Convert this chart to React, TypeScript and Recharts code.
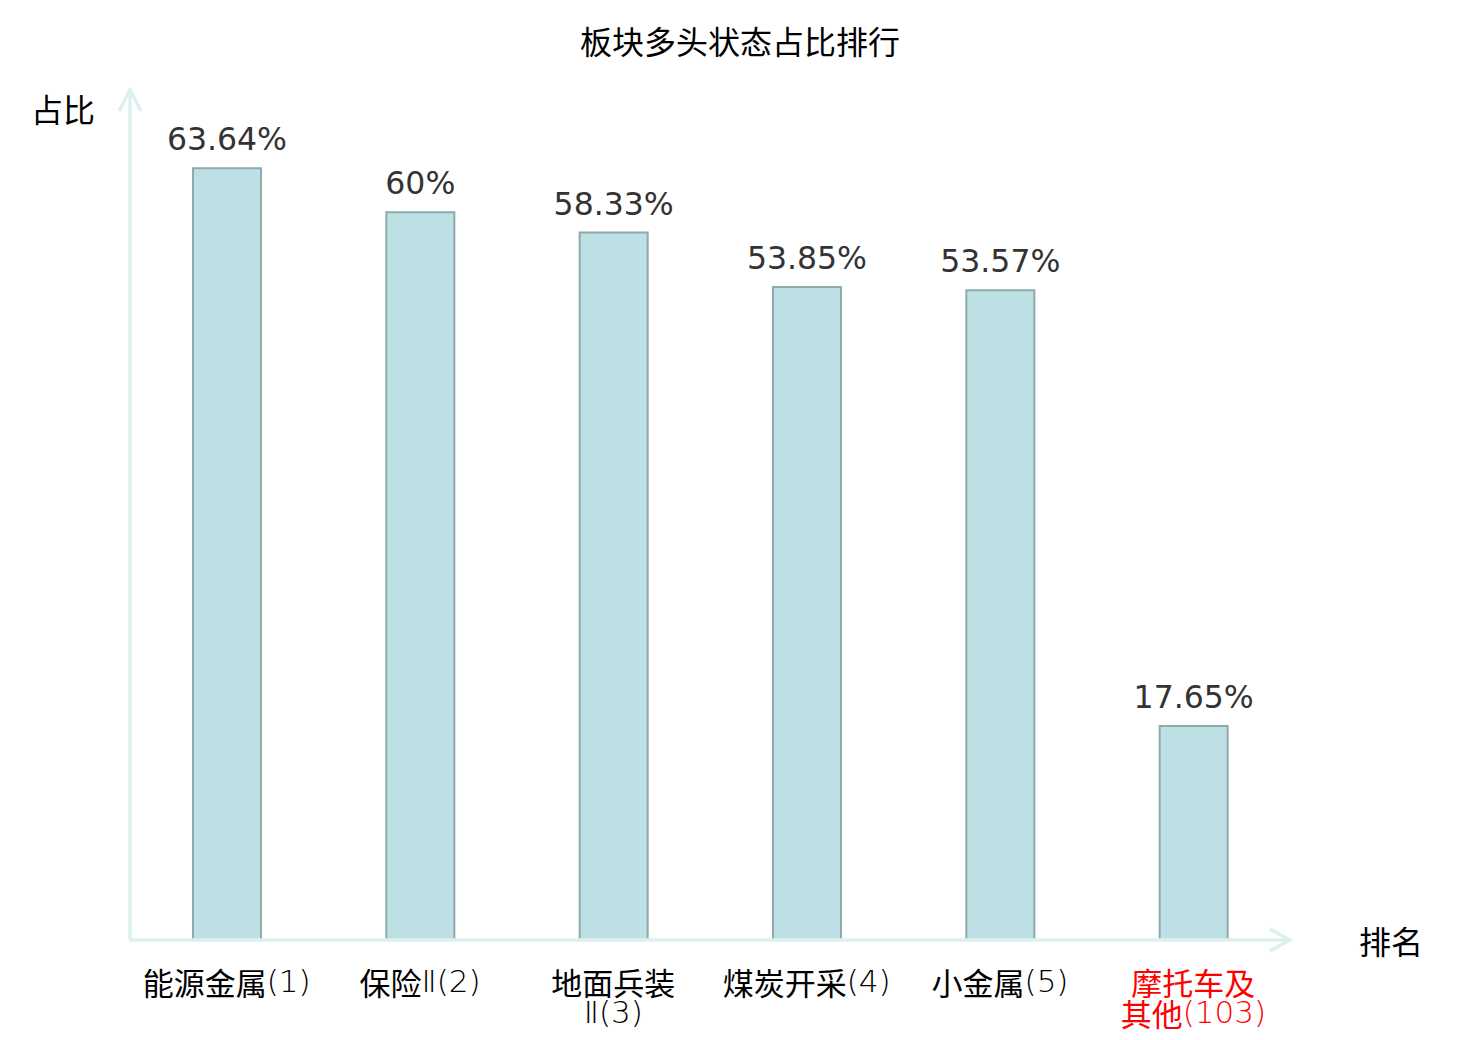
import React from "react";
import { Bar, BarChart, LabelList, XAxis, YAxis } from "recharts";

const categories = [
  "能源金属(1)",
  "保险Ⅱ(2)",
  "地面兵装\nⅡ(3)",
  "煤炭开采(4)",
  "小金属(5)",
  "摩托车及\n其他(103)",
];
const ratios = [63.64, 60, 58.33, 53.85, 53.57, 17.65];
const highlighted = ["摩托车及\n其他(103)"];

const data = categories.map((name, i) => ({ name, ratio: ratios[i] }));

const AXIS_COLOR = "#dcf1ef";
const CJK = "'Noto Sans CJK SC', 'DejaVu Sans', sans-serif";
const THIN = "'DejaVu Sans', sans-serif";

// split a line into CJK runs and latin runs (latin drawn thinner, as in the source)
function splitRuns(line: string) {
  return line.match(/[\u4e00-\u9fff]+|[^\u4e00-\u9fff]+/g) || [];
}

function CategoryTick({ x, y, payload }: any) {
  const lines = String(payload.value).split("\n");
  const color = highlighted.includes(payload.value) ? "#f00" : "#000";
  return (
    <g>
      {lines.map((line, i) => (
        <text
          key={i}
          x={x}
          y={y + 33 + i * 31}
          textAnchor="middle"
          dominantBaseline="central"
          fontSize={31}
          fontFamily={CJK}
          fill={color}
        >
          {splitRuns(line).map((run, j) =>
            /[\u4e00-\u9fff]/.test(run) ? (
              <tspan key={j}>{run}</tspan>
            ) : (
              <tspan key={j} fontFamily={THIN} fontWeight={200}>
                {run}
              </tspan>
            )
          )}
        </text>
      ))}
    </g>
  );
}

function YAxisArrow({ viewBox }: any) {
  const x = viewBox.x + viewBox.width;
  const y = viewBox.y;
  return (
    <g>
      <polyline
        points={`${x - 11},${y + 20} ${x},${y - 1} ${x + 11},${y + 20}`}
        fill="none"
        stroke={AXIS_COLOR}
        strokeWidth={3.5}
      />
      <text
        x={x - 67}
        y={y + 17}
        textAnchor="middle"
        dominantBaseline="central"
        fontSize={32}
        fontFamily={CJK}
        fill="#000"
      >
        占比
      </text>
    </g>
  );
}

function XAxisArrow({ viewBox }: any) {
  const { x, y, width } = viewBox;
  const end = x + width;
  return (
    <g>
      <polyline
        points={`${end - 20},${y - 11} ${end},${y} ${end - 20},${y + 11}`}
        fill="none"
        stroke={AXIS_COLOR}
        strokeWidth={3.5}
      />
      <text
        x={end + 101}
        y={y}
        textAnchor="middle"
        dominantBaseline="central"
        fontSize={32}
        fontFamily={CJK}
        fill="#000"
      >
        排名
      </text>
    </g>
  );
}

export default function App() {
  return (
    <div style={{ position: "absolute", left: 0, top: 0, width: 1480, height: 1040, background: "#fff" }}>
      <div
        style={{
          position: "absolute",
          top: 19,
          width: 1480,
          textAlign: "center",
          fontFamily: CJK,
          fontSize: 32,
          color: "#000",
          lineHeight: "42px",
        }}
      >
        板块多头状态占比排行
      </div>
      <BarChart
        width={1480}
        height={1040}
        data={data}
        margin={{ top: 91, right: 190, bottom: 0, left: 129 }}
      >
        <XAxis
          dataKey="name"
          height={100}
          interval={0}
          tickLine={false}
          axisLine={{ stroke: AXIS_COLOR, strokeWidth: 3.5 }}
          tick={<CategoryTick />}
          label={<XAxisArrow />}
        />
        <YAxis
          width={1}
          domain={[0, 70]}
          tick={false}
          tickLine={false}
          axisLine={{ stroke: AXIS_COLOR, strokeWidth: 3.5 }}
          label={<YAxisArrow />}
        />
        <Bar
          dataKey="ratio"
          barSize={68}
          fill="#bce0e3"
          stroke="#8faaaa"
          strokeWidth={2}
          isAnimationActive={false}
        >
          <LabelList
            dataKey="ratio"
            position="top"
            offset={18}
            formatter={(v: any) => `${v}%`}
            fill="#333"
            fontSize={31.5}
            fontFamily="'DejaVu Sans', sans-serif"
          />
        </Bar>
      </BarChart>
    </div>
  );
}
